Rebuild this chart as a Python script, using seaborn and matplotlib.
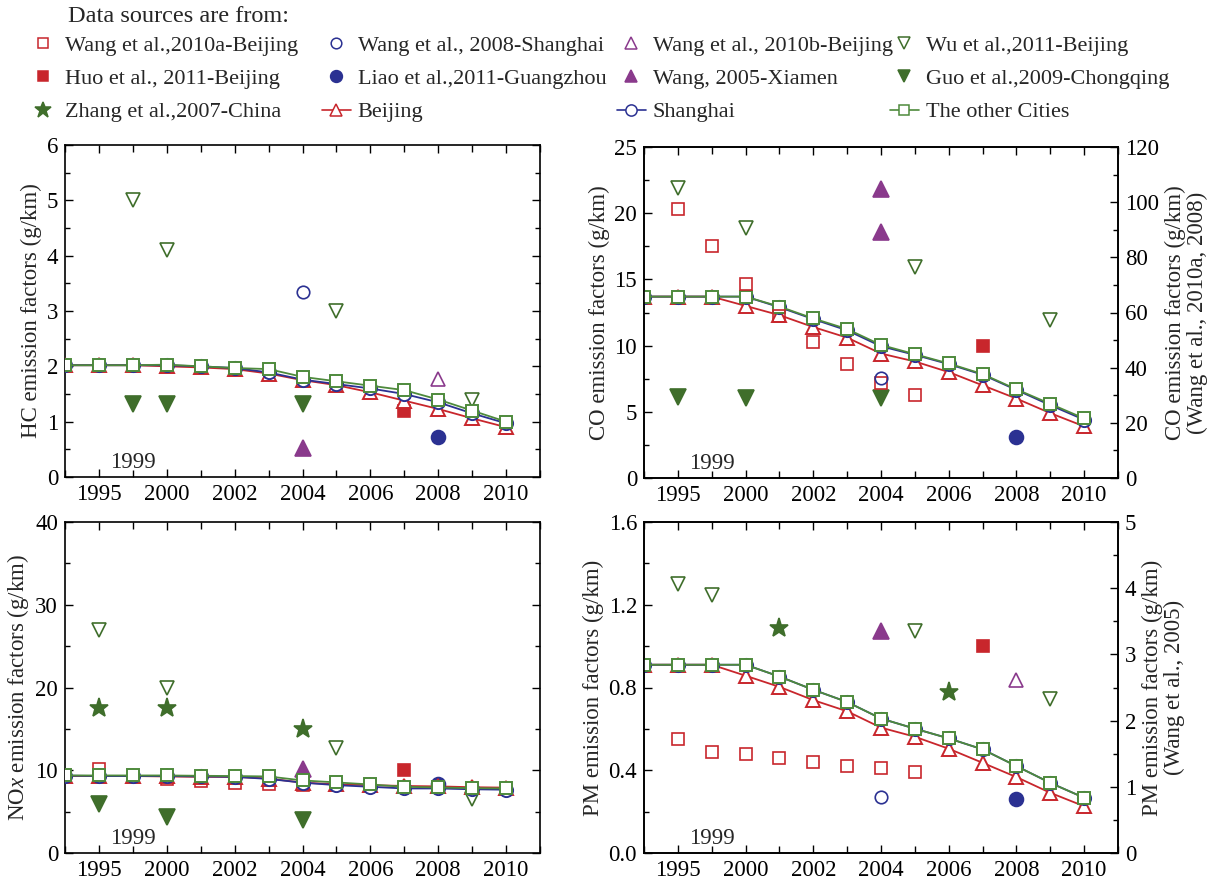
import numpy as np
import pandas as pd
import matplotlib
matplotlib.use("Agg")
import matplotlib.pyplot as plt
import seaborn as sns
from matplotlib.lines import Line2D
from matplotlib.ticker import MultipleLocator, FixedLocator, FormatStrFormatter

sns.set_theme(style="ticks")
plt.rcParams["font.family"] = ["Liberation Serif", "DejaVu Serif"]
plt.rcParams["mathtext.fontset"] = "custom"
plt.rcParams["mathtext.rm"] = "Liberation Serif"
plt.rcParams["mathtext.it"] = "Liberation Serif:italic"

# ---------------- data ----------------
# categorical x positions (first position is unlabelled in the source figure)
years = ["", "1995", "1999", "2000", "2001", "2002", "2003", "2004",
         "2005", "2006", "2007", "2008", "2009", "2010"]
tick_years = ["1995", "2000", "2002", "2004", "2006", "2008", "2010"]
extra_label = "1999"

# HC (g/km)
hc_beijing = [2.02, 2.02, 2.02, 2.00, 1.98, 1.95, 1.87, 1.75, 1.66, 1.53, 1.38, 1.23, 1.06, 0.90]
hc_shanghai = [2.02, 2.02, 2.02, 2.02, 2.00, 1.97, 1.89, 1.76, 1.68, 1.60, 1.50, 1.35, 1.15, 0.97]
hc_other = [2.02, 2.02, 2.02, 2.03, 2.00, 1.97, 1.95, 1.81, 1.73, 1.65, 1.57, 1.40, 1.20, 1.00]
hc_wu_x, hc_wu_y = ["1999", "2000", "2005", "2009"], [5.0, 4.1, 3.0, 1.4]
hc_wang2008_x, hc_wang2008_y = ["2004"], [3.35]
hc_guo_x, hc_guo_y = ["1999", "2000", "2004"], [1.32, 1.32, 1.32]
hc_wang2005_x, hc_wang2005_y = ["2004"], [0.52]
hc_huo_x, hc_huo_y = ["2007"], [1.2]
hc_wang2010b_x, hc_wang2010b_y = ["2008"], [1.78]
hc_liao_x, hc_liao_y = ["2008"], [0.72]

# CO (g/km); Wang 2010a / 2008 on right axis
co_beijing = [13.7, 13.7, 13.7, 13.0, 12.3, 11.4, 10.6, 9.4, 8.8, 8.0, 7.0, 6.0, 4.9, 3.9]
co_shanghai = [13.7, 13.7, 13.7, 13.7, 12.9, 12.0, 11.15, 9.95, 9.3, 8.6, 7.8, 6.65, 5.5, 4.4]
co_other = [13.7, 13.7, 13.7, 13.7, 12.95, 12.05, 11.25, 10.05, 9.35, 8.65, 7.85, 6.7, 5.6, 4.5]
co_wu_x, co_wu_y = ["1995", "2000", "2005", "2009"], [21.9, 18.9, 15.9, 11.9]
co_wang2005_x, co_wang2005_y = ["2004", "2004"], [21.8, 18.6]
co_guo_x, co_guo_y = ["1995", "2000", "2004"], [6.15, 6.05, 6.05]
co_huo_x, co_huo_y = ["2007"], [10.0]
co_liao_x, co_liao_y = ["2008"], [3.1]
co_wang2010a_x = ["1995", "1999", "2000", "2001", "2002", "2003", "2004", "2005"]
co_wang2010a_y = [97.5, 84.0, 70.4, 58.8, 49.4, 41.5, 34.6, 30.0]
co_wang2008_x, co_wang2008_y = ["2004"], [36.1]

# NOx (g/km)
nox_beijing = [9.3, 9.3, 9.3, 9.25, 9.2, 9.2, 9.0, 8.5, 8.3, 8.2, 8.1, 8.05, 7.95, 7.9]
nox_shanghai = [9.35, 9.3, 9.3, 9.3, 9.25, 9.2, 8.95, 8.5, 8.2, 8.0, 7.8, 7.8, 7.7, 7.65]
nox_other = [9.37, 9.37, 9.37, 9.37, 9.33, 9.3, 9.25, 8.77, 8.53, 8.28, 8.0, 7.92, 7.84, 7.8]
nox_wang2010a_x = ["1995", "2000", "2001", "2002", "2003", "2004"]
nox_wang2010a_y = [10.2, 9.0, 8.7, 8.5, 8.3, 8.2]
nox_wu_x, nox_wu_y = ["1995", "2000", "2005", "2009"], [26.9, 19.9, 12.7, 6.5]
nox_zhang_x, nox_zhang_y = ["1995", "2000", "2004"], [17.5, 17.5, 15.0]
nox_guo_x, nox_guo_y = ["1995", "2000", "2004"], [5.9, 4.4, 4.0]
nox_wang2005_x, nox_wang2005_y = ["2004"], [10.1]
nox_huo_x, nox_huo_y = ["2007"], [10.0]
nox_liao_x, nox_liao_y = ["2008"], [8.35]

# PM (g/km); Wang 2005 on right axis
pm_beijing = [0.91, 0.91, 0.91, 0.857, 0.803, 0.739, 0.685, 0.606, 0.562, 0.504, 0.436, 0.367, 0.291, 0.226]
pm_shanghai = [0.91, 0.91, 0.91, 0.91, 0.853, 0.789, 0.730, 0.650, 0.601, 0.554, 0.501, 0.420, 0.339, 0.267]
pm_other = [0.91, 0.91, 0.91, 0.91, 0.853, 0.789, 0.730, 0.650, 0.601, 0.554, 0.501, 0.420, 0.339, 0.267]
pm_wang2010a_x = ["1995", "1999", "2000", "2001", "2002", "2003", "2004", "2005"]
pm_wang2010a_y = [0.55, 0.49, 0.48, 0.46, 0.44, 0.42, 0.41, 0.39]
pm_wu_x, pm_wu_y = ["1995", "1999", "2005", "2009"], [1.30, 1.245, 1.075, 0.743]
pm_zhang_x, pm_zhang_y = ["2001", "2006"], [1.09, 0.78]
pm_huo_x, pm_huo_y = ["2007"], [1.0]
pm_wang2010b_x, pm_wang2010b_y = ["2008"], [0.836]
pm_wang2008_x, pm_wang2008_y = ["2004"], [0.272]
pm_liao_x, pm_liao_y = ["2008"], [0.26]
pm_wang2005_x, pm_wang2005_y = ["2004"], [3.35]

source_labels = {
    "wang2010a": "Wang et al.,2010a-Beijing",
    "wang2008": "Wang et al., 2008-Shanghai",
    "wang2010b": "Wang et al., 2010b-Beijing",
    "wu": "Wu et al.,2011-Beijing",
    "huo": "Huo et al., 2011-Beijing",
    "liao": "Liao et al.,2011-Guangzhou",
    "wang2005": "Wang, 2005-Xiamen",
    "guo": "Guo et al.,2009-Chongqing",
    "zhang": "Zhang et al.,2007-China",
    "beijing": "Beijing",
    "shanghai": "Shanghai",
    "other": "The other Cities",
}

# ---------------- styles ----------------
RED = "#C8262C"
BLUE = "#2B3192"
PURPLE = "#8A3A8C"
GREEN = "#3F6E2B"
GREEN_L = "#4E8A3C"

styles = {
    "wang2010a": dict(marker="s", mfc="none", mec=RED, ms=8.5),
    "wang2008": dict(marker="o", mfc="none", mec=BLUE, ms=9),
    "wang2010b": dict(marker="^", mfc="none", mec=PURPLE, ms=10),
    "wu": dict(marker="v", mfc="none", mec=GREEN, ms=10),
    "huo": dict(marker="s", mfc=RED, mec=RED, ms=9),
    "liao": dict(marker="o", mfc=BLUE, mec=BLUE, ms=10),
    "wang2005": dict(marker="^", mfc=PURPLE, mec=PURPLE, ms=11),
    "guo": dict(marker="v", mfc=GREEN, mec=GREEN, ms=11),
    "zhang": dict(marker="*", mfc=GREEN, mec=GREEN, ms=14),
    "beijing": dict(marker="^", mfc="white", mec=RED, ms=10.5, color=RED),
    "shanghai": dict(marker="o", mfc="white", mec=BLUE, ms=9.5, color=BLUE),
    "other": dict(marker="s", mfc="white", mec=GREEN_L, ms=9, color=GREEN_L),
}

xpos = {y: i for i, y in enumerate(years) if y}
FS = 16.5      # tick labels
FS_LAB = 16.5  # axis labels
FS_LEG = 16    # legend

W, H = 1215, 883
fig = plt.figure(figsize=(W / 100, H / 100), dpi=100)


def add_axes(l, t, r, b):
    return fig.add_axes([l / W, 1 - b / H, (r - l) / W, (b - t) / H])


def scatter(ax, key, xs, ys):
    s = dict(styles[key])
    d = pd.DataFrame({"x": [xpos[v] for v in xs], "y": ys})
    sns.lineplot(data=d, x="x", y="y", ax=ax, estimator=None, sort=False,
                 linestyle="", color=s["mec"], marker=s["marker"], ms=s["ms"],
                 mfc=s["mfc"], mec=s["mec"], mew=1.2, zorder=3)


def city_line(ax, key, vals):
    s = dict(styles[key])
    d = pd.DataFrame({"x": np.arange(len(vals)), "y": vals})
    sns.lineplot(data=d, x="x", y="y", ax=ax, estimator=None, sort=False,
                 color=s["color"], lw=1.3, marker=s["marker"], ms=s["ms"],
                 mfc=s["mfc"], mec=s["mec"], mew=1.4, zorder=4)


def style_axis(ax, ymax, major, minor, ylabel, mirror=True):
    ax.set_xlim(0, 14)
    ax.set_ylim(0, ymax)
    ax.xaxis.set_major_locator(FixedLocator([xpos[y] for y in tick_years]))
    ax.set_xticklabels(tick_years)
    ax.xaxis.set_minor_locator(MultipleLocator(1))
    ax.yaxis.set_major_locator(MultipleLocator(major))
    ax.yaxis.set_minor_locator(MultipleLocator(minor))
    ax.tick_params(which="both", direction="in", top=True, right=mirror,
                   labelsize=FS, width=1.0, colors="black", pad=5)
    ax.tick_params(which="major", length=6)
    ax.tick_params(which="minor", length=3.5)
    ax.tick_params(axis="x", which="minor", length=5)
    ax.set_xlabel("")
    ax.set_ylabel(ylabel, fontsize=FS_LAB, labelpad=3)
    for sp in ax.spines.values():
        sp.set_visible(True)
        sp.set_linewidth(1.2)
        sp.set_color("black")
    ax.annotate(extra_label, xy=(xpos[extra_label], 0.045),
                xycoords=("data", "axes fraction"), ha="center", va="center",
                fontsize=FS)


def style_twin(ax2, ymax, major, minor, ylabel):
    ax2.set_ylim(0, ymax)
    ax2.yaxis.set_major_locator(MultipleLocator(major))
    ax2.yaxis.set_minor_locator(MultipleLocator(minor))
    ax2.tick_params(which="both", direction="in", labelsize=FS, width=1.0,
                    colors="black", pad=5)
    ax2.tick_params(which="major", length=6)
    ax2.tick_params(which="minor", length=3.5)
    ax2.set_ylabel(ylabel, fontsize=FS_LAB, labelpad=4, linespacing=1.05)
    ax2.set_xlabel("")
    for sp in ax2.spines.values():
        sp.set_visible(True)
        sp.set_linewidth(1.2)
        sp.set_color("black")


# ---------------- HC ----------------
ax = add_axes(65, 145, 540, 477)
scatter(ax, "wu", hc_wu_x, hc_wu_y)
scatter(ax, "wang2008", hc_wang2008_x, hc_wang2008_y)
scatter(ax, "guo", hc_guo_x, hc_guo_y)
scatter(ax, "wang2005", hc_wang2005_x, hc_wang2005_y)
scatter(ax, "huo", hc_huo_x, hc_huo_y)
scatter(ax, "wang2010b", hc_wang2010b_x, hc_wang2010b_y)
scatter(ax, "liao", hc_liao_x, hc_liao_y)
city_line(ax, "beijing", hc_beijing)
city_line(ax, "shanghai", hc_shanghai)
city_line(ax, "other", hc_other)
style_axis(ax, 6, 1, 0.5, "HC emission factors (g/km)")

# ---------------- CO ----------------
ax = add_axes(644, 147, 1118, 478)
scatter(ax, "wu", co_wu_x, co_wu_y)
scatter(ax, "wang2005", co_wang2005_x, co_wang2005_y)
scatter(ax, "guo", co_guo_x, co_guo_y)
scatter(ax, "huo", co_huo_x, co_huo_y)
scatter(ax, "liao", co_liao_x, co_liao_y)
city_line(ax, "beijing", co_beijing)
city_line(ax, "shanghai", co_shanghai)
city_line(ax, "other", co_other)
style_axis(ax, 25, 5, 2.5, "CO emission factors (g/km)", mirror=False)
ax2 = ax.twinx()
scatter(ax2, "wang2010a", co_wang2010a_x, co_wang2010a_y)
scatter(ax2, "wang2008", co_wang2008_x, co_wang2008_y)
style_twin(ax2, 120, 20, 10, "CO emission factors (g/km)\n(Wang et al., 2010a, 2008)")
ax2.set_xlim(0, 14)

# ---------------- NOx ----------------
ax = add_axes(65, 522, 540, 853)
scatter(ax, "wang2010a", nox_wang2010a_x, nox_wang2010a_y)
scatter(ax, "wu", nox_wu_x, nox_wu_y)
scatter(ax, "zhang", nox_zhang_x, nox_zhang_y)
scatter(ax, "guo", nox_guo_x, nox_guo_y)
scatter(ax, "wang2005", nox_wang2005_x, nox_wang2005_y)
scatter(ax, "huo", nox_huo_x, nox_huo_y)
scatter(ax, "liao", nox_liao_x, nox_liao_y)
city_line(ax, "beijing", nox_beijing)
city_line(ax, "shanghai", nox_shanghai)
city_line(ax, "other", nox_other)
style_axis(ax, 40, 10, 5, "NO$x$ emission factors (g/km)")

# ---------------- PM ----------------
ax = add_axes(644, 522, 1118, 853)
scatter(ax, "wang2010a", pm_wang2010a_x, pm_wang2010a_y)
scatter(ax, "wu", pm_wu_x, pm_wu_y)
scatter(ax, "zhang", pm_zhang_x, pm_zhang_y)
scatter(ax, "huo", pm_huo_x, pm_huo_y)
scatter(ax, "wang2010b", pm_wang2010b_x, pm_wang2010b_y)
scatter(ax, "wang2008", pm_wang2008_x, pm_wang2008_y)
scatter(ax, "liao", pm_liao_x, pm_liao_y)
city_line(ax, "beijing", pm_beijing)
city_line(ax, "shanghai", pm_shanghai)
city_line(ax, "other", pm_other)
style_axis(ax, 1.6, 0.4, 0.2, "PM emission factors (g/km)", mirror=False)
ax.yaxis.set_major_formatter(FormatStrFormatter("%.1f"))
ax2 = ax.twinx()
scatter(ax2, "wang2005", pm_wang2005_x, pm_wang2005_y)
style_twin(ax2, 5, 1, 0.5, "PM emission factors (g/km)\n(Wang et al., 2005)")
ax2.set_xlim(0, 14)


# ---------------- legend ----------------
def handle(key):
    s = dict(styles[key])
    ls = "-" if key in ("beijing", "shanghai", "other") else "none"
    ms = s["ms"] * 0.85
    return Line2D([], [], linestyle=ls, color=s.get("color", s["mec"]), lw=1.2,
                  marker=s["marker"], ms=ms, mfc=s["mfc"], mec=s["mec"], mew=1.1)


columns = [["wang2010a", "huo", "zhang"],
           ["wang2008", "liao", "beijing"],
           ["wang2010b", "wang2005", "shanghai"],
           ["wu", "guo", "other"]]
col_left = [29, 322, 617, 890]
for keys, left in zip(columns, col_left):
    fig.legend([handle(k) for k in keys], [source_labels[k] for k in keys],
               loc="upper left", bbox_to_anchor=(left / W, 1 - 35 / H),
               frameon=False, fontsize=FS_LEG, handlelength=1.3,
               handletextpad=0.3, labelspacing=0.58, borderpad=0,
               borderaxespad=0, ncol=1)

fig.text(68 / W, 1 - 17 / H, "Data sources are from:", fontsize=17.5,
         ha="left", va="center")

fig.savefig("out.png", dpi=100)
